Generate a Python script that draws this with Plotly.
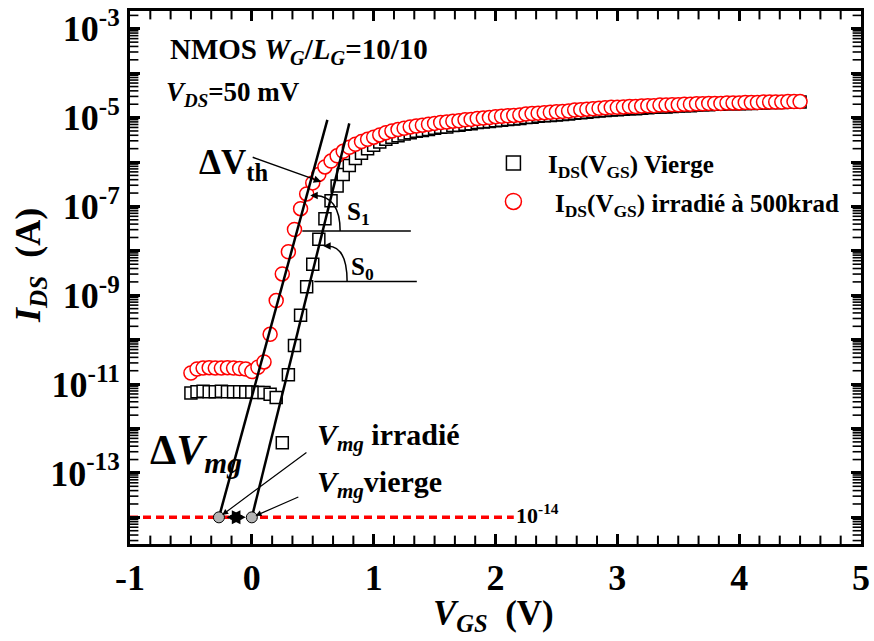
import math
import plotly.graph_objects as go

# Gate-voltage sweep (V)
vgs = [-0.50, -0.45, -0.40, -0.35, -0.30, -0.25, -0.20, -0.15, -0.10, -0.05,
       0.00, 0.05, 0.10, 0.15, 0.20, 0.25, 0.30, 0.35, 0.40, 0.45,
       0.50, 0.55, 0.60, 0.65, 0.70, 0.75, 0.80, 0.85, 0.90, 0.95,
       1.00, 1.05, 1.10, 1.15, 1.20, 1.25, 1.30, 1.35, 1.40, 1.45,
       1.50, 1.55, 1.60, 1.65, 1.70, 1.75, 1.80, 1.85, 1.90, 1.95,
       2.00, 2.05, 2.10, 2.15, 2.20, 2.25, 2.30, 2.35, 2.40, 2.45,
       2.50, 2.55, 2.60, 2.65, 2.70, 2.75, 2.80, 2.85, 2.90, 2.95,
       3.00, 3.05, 3.10, 3.15, 3.20, 3.25, 3.30, 3.35, 3.40, 3.45,
       3.50, 3.55, 3.60, 3.65, 3.70, 3.75, 3.80, 3.85, 3.90, 3.95,
       4.00, 4.05, 4.10, 4.15, 4.20, 4.25, 4.30, 4.35, 4.40, 4.45, 4.50]

# Drain current (A), fresh device
ids_vierge = [6.31e-12, 6.76e-12, 6.92e-12, 6.76e-12, 6.76e-12, 6.92e-12, 6.76e-12, 6.76e-12, 6.76e-12, 6.61e-12,
              6.61e-12, 6.46e-12, 6.46e-12, 5.89e-12, 5.01e-12, 4.79e-13, 1.62e-11, 7.41e-11, 3.55e-10, 1.55e-9,
              5.01e-9, 1.82e-8, 5.25e-8, 1.35e-7, 2.88e-7, 5.25e-7, 8.32e-7, 1.20e-6, 1.58e-6, 2.00e-6,
              2.40e-6, 2.82e-6, 3.24e-6, 3.63e-6, 3.89e-6, 4.27e-6, 4.57e-6, 4.90e-6, 5.13e-6, 5.37e-6,
              5.75e-6, 6.03e-6, 6.17e-6, 6.61e-6, 6.76e-6, 7.08e-6, 7.24e-6, 7.76e-6, 7.94e-6, 8.13e-6,
              8.51e-6, 8.71e-6, 9.12e-6, 9.33e-6, 9.55e-6, 1.00e-5, 1.02e-5, 1.07e-5, 1.10e-5, 1.12e-5,
              1.15e-5, 1.17e-5, 1.20e-5, 1.26e-5, 1.29e-5, 1.32e-5, 1.38e-5, 1.41e-5, 1.45e-5, 1.48e-5,
              1.51e-5, 1.55e-5, 1.58e-5, 1.58e-5, 1.62e-5, 1.66e-5, 1.70e-5, 1.74e-5, 1.74e-5, 1.78e-5,
              1.82e-5, 1.86e-5, 1.86e-5, 1.91e-5, 1.95e-5, 1.95e-5, 2.00e-5, 2.00e-5, 2.04e-5, 2.04e-5,
              2.04e-5, 2.09e-5, 2.09e-5, 2.14e-5, 2.14e-5, 2.19e-5, 2.19e-5, 2.19e-5, 2.24e-5, 2.24e-5, 2.24e-5]

# Drain current (A), after 500 krad
ids_irradie = [1.78e-11, 2.19e-11, 2.29e-11, 2.34e-11, 2.29e-11, 2.29e-11, 2.34e-11, 2.29e-11, 2.24e-11, 2.19e-11,
               1.91e-11, 2.40e-11, 3.16e-11, 1.32e-10, 7.59e-10, 3.02e-9, 9.55e-9, 3.02e-8, 8.91e-8, 1.91e-7,
               3.39e-7, 5.25e-7, 7.76e-7, 1.05e-6, 1.38e-6, 1.74e-6, 2.14e-6, 2.51e-6, 2.88e-6, 3.24e-6,
               3.63e-6, 4.07e-6, 4.57e-6, 5.01e-6, 5.37e-6, 5.75e-6, 6.17e-6, 6.46e-6, 6.76e-6, 7.08e-6,
               7.41e-6, 7.76e-6, 7.94e-6, 8.32e-6, 8.51e-6, 8.91e-6, 9.12e-6, 9.55e-6, 9.77e-6, 1.00e-5,
               1.05e-5, 1.07e-5, 1.10e-5, 1.12e-5, 1.15e-5, 1.20e-5, 1.23e-5, 1.26e-5, 1.29e-5, 1.32e-5,
               1.35e-5, 1.38e-5, 1.41e-5, 1.48e-5, 1.51e-5, 1.55e-5, 1.58e-5, 1.62e-5, 1.66e-5, 1.70e-5,
               1.70e-5, 1.74e-5, 1.78e-5, 1.78e-5, 1.82e-5, 1.86e-5, 1.86e-5, 1.91e-5, 1.91e-5, 1.95e-5,
               1.95e-5, 2.00e-5, 2.00e-5, 2.04e-5, 2.04e-5, 2.09e-5, 2.09e-5, 2.09e-5, 2.14e-5, 2.14e-5,
               2.14e-5, 2.19e-5, 2.19e-5, 2.19e-5, 2.24e-5, 2.24e-5, 2.24e-5, 2.24e-5, 2.29e-5, 2.29e-5, 2.29e-5]

# Subthreshold tangents extrapolated down to the midgap current
tangent_irr_vgs = [-0.27, 0.62]
tangent_irr_ids = [1e-14, 8.9e-6]
tangent_vierge_vgs = [0.00, 0.80]
tangent_vierge_ids = [1e-14, 7.4e-6]

# Midgap voltages (irradiated, fresh) at the midgap current level
vmg_vgs = [-0.27, 0.00]
vmg_ids = [1e-14, 1e-14]
midgap_level_vgs = [-1.0, 2.15]
midgap_level_ids = [1e-14, 1e-14]

X_RANGE = [-1, 5]
Y_RANGE = [-14.6, -2.6]

# Axis ticks
x_ticks = [-1, 0, 1, 2, 3, 4, 5]
x_minor_ticks = [-1 + k / 6 for k in range(37) if k % 6]
y_exponents = list(range(-14, -2))
y_major_ticks = [10.0 ** e for e in y_exponents]
y_minor_ticks = [m * 10.0 ** e for e in range(-15, -2) for m in range(2, 10)
                 if Y_RANGE[0] < e + math.log10(m) < Y_RANGE[1]]

FONT = "Liberation Serif"
PL, PT, PW, PH = 130, 4, 734, 540  # plot box in px


def xp(p):
    return (p - PL) / PW


def yp(p):
    return (PT + PH - p) / PH


fig = go.Figure()

fig.add_trace(go.Scatter(
    x=vgs, y=ids_vierge, mode="markers", name="Vierge",
    marker=dict(symbol="square", size=12, color="white",
                line=dict(color="black", width=1.5))))
fig.add_trace(go.Scatter(
    x=vgs, y=ids_irradie, mode="markers", name="irradié à 500krad",
    marker=dict(symbol="circle", size=14, color="white",
                line=dict(color="#ff0000", width=1.5))))
fig.add_trace(go.Scatter(
    x=tangent_irr_vgs, y=tangent_irr_ids, mode="lines",
    line=dict(color="black", width=2.5)))
fig.add_trace(go.Scatter(
    x=tangent_vierge_vgs, y=tangent_vierge_ids, mode="lines",
    line=dict(color="black", width=2.5)))
fig.add_trace(go.Scatter(
    x=midgap_level_vgs, y=midgap_level_ids, mode="lines",
    line=dict(color="#ff0000", width=3.5, dash="8px,5px")))
fig.add_trace(go.Scatter(
    x=vmg_vgs, y=vmg_ids, mode="markers",
    marker=dict(symbol="circle", size=11, color="#b4b4b4",
                line=dict(color="black", width=1))))


# Inward minor tick marks on all four sides: line markers centred on the
# frame, the outer half of each is clipped away by the plot area.
def tick_marks(xs, ys, symbol, length, width):
    fig.add_trace(go.Scatter(
        x=xs, y=ys, mode="markers", hoverinfo="skip", cliponaxis=True,
        marker=dict(symbol=symbol, size=2 * length, color="black",
                    line=dict(color="black", width=width))))


y_lo, y_hi = 10.0 ** Y_RANGE[0], 10.0 ** Y_RANGE[1]
for yedge in (y_lo, y_hi):
    tick_marks(x_minor_ticks, [yedge] * len(x_minor_ticks), "line-ns", 6, 2)
for xedge in X_RANGE:
    tick_marks([xedge] * len(y_minor_ticks), y_minor_ticks, "line-ew", 6, 1.6)

tick_font = dict(family=FONT, size=36, color="black", weight="bold")
frame = dict(showgrid=False, zeroline=False, showline=True, linewidth=3,
             linecolor="black", mirror="ticks", ticks="inside", tickcolor="black",
             ticklen=10, tickwidth=2.5)

fig.update_layout(
    xaxis=dict(range=X_RANGE, tickvals=x_ticks, ticktext=[str(v) for v in x_ticks],
               tickfont=tick_font, **frame),
    yaxis=dict(type="log", range=Y_RANGE, tickvals=y_major_ticks,
               ticktext=[("10<sup>%d</sup>" % e) if e % 2 else "" for e in y_exponents],
               tickfont=tick_font, **frame),
)


def label(text, x, y, size, xanchor="left", yanchor="middle", angle=0):
    fig.add_annotation(text=text, x=x, y=y, xref="paper", yref="paper",
                       xanchor=xanchor, yanchor=yanchor, showarrow=False,
                       textangle=angle,
                       font=dict(family=FONT, size=size, color="black", weight="bold"))


# Axis titles
label("<i>I</i><sub><i>DS</i></sub>  (A)", xp(30), yp(262), 36, xanchor="center", angle=-90)
label("<i>V</i><sub><i>GS</i></sub>  (V)", xp(495), yp(616), 35, xanchor="center")

# Device description
label("NMOS <i>W</i><sub><i>G</i></sub>/<i>L</i><sub><i>G</i></sub>=10/10", xp(168), yp(45), 29)
label("<i>V</i><sub><i>DS</i></sub>=50 mV", xp(164), yp(88), 27)

# Legend
fig.add_shape(type="rect", xref="paper", yref="paper", xsizemode="pixel", ysizemode="pixel",
              xanchor=xp(515), yanchor=yp(158), x0=-7, x1=7, y0=-7, y1=7,
              line=dict(color="black", width=1.5), fillcolor="white")
fig.add_shape(type="circle", xref="paper", yref="paper", xsizemode="pixel", ysizemode="pixel",
              xanchor=xp(515), yanchor=yp(197), x0=-8, x1=8, y0=-8, y1=8,
              line=dict(color="#ff0000", width=1.5), fillcolor="white")
label("I<sub>DS</sub>(V<sub>GS</sub>) Vierge", xp(548), yp(162), 25)
label("I<sub>DS</sub>(V<sub>GS</sub>) irradié à 500krad", xp(555), yp(201), 25)

# Threshold shift
label("ΔV<sub>th</sub>", xp(197), yp(160), 35)
fig.add_annotation(x=xp(322), y=yp(177), xref="paper", yref="paper", ax=-70, ay=-25,
                   text="", showarrow=True, arrowhead=2, arrowsize=1, arrowwidth=1.5,
                   arrowcolor="black", standoff=0)

# Subthreshold slopes
fig.add_shape(type="line", xref="paper", yref="paper", x0=xp(303), x1=xp(412),
              y0=yp(227), y1=yp(227), line=dict(color="black", width=1.5))
fig.add_shape(type="line", xref="paper", yref="paper", x0=xp(315), x1=xp(418),
              y0=yp(278), y1=yp(278), line=dict(color="black", width=1.5))
fig.add_shape(type="path", xref="paper", yref="paper",
              path="M %f,%f Q %f,%f %f,%f" % (xp(341), yp(227), xp(341), yp(192), xp(316), yp(191)),
              line=dict(color="black", width=1.5))
fig.add_shape(type="path", xref="paper", yref="paper",
              path="M %f,%f Q %f,%f %f,%f" % (xp(348), yp(278), xp(348), yp(243), xp(329), yp(242)),
              line=dict(color="black", width=1.5))
for hx, hy in [(311, 191), (324, 242)]:
    fig.add_annotation(x=xp(hx), y=yp(hy), xref="paper", yref="paper", ax=7, ay=0,
                       text="", showarrow=True, arrowhead=2, arrowsize=1, arrowwidth=1.5,
                       arrowcolor="black", standoff=0)
label("S<sub>1</sub>", xp(346), yp(209), 25)
label("S<sub>0</sub>", xp(350), yp(265), 25)

# Midgap shift
label("Δ<i>V</i><sub><i>mg</i></sub>", xp(148), yp(452), 42)
label("<i>V</i><sub><i>mg</i></sub> irradié", xp(316), yp(436), 30)
label("<i>V</i><sub><i>mg</i></sub>vierge", xp(316), yp(483), 30)
fig.add_annotation(x=vmg_vgs[0], y=-14, xref="x", yref="y", ax=89, ay=-66,
                   text="", showarrow=True, arrowhead=2, arrowsize=1, arrowwidth=1.2,
                   arrowcolor="black", standoff=4)
fig.add_annotation(x=vmg_vgs[1], y=-14, xref="x", yref="y", ax=48, ay=-21,
                   text="", showarrow=True, arrowhead=2, arrowsize=1, arrowwidth=1.2,
                   arrowcolor="black", standoff=4)
fig.add_annotation(x=vmg_vgs[1], y=-14, xref="x", yref="y",
                   ax=vmg_vgs[0], ay=-14, axref="x", ayref="y",
                   text="", showarrow=True, arrowside="end+start",
                   arrowhead=2, startarrowhead=2, arrowsize=0.7, startarrowsize=0.7,
                   arrowwidth=4, arrowcolor="black", standoff=6, startstandoff=6)
label("10<sup>-14</sup>", xp(516), yp(514), 22)

fig.update_layout(
    width=874, height=641, autosize=False,
    margin=dict(l=PL, r=874 - PL - PW, t=PT, b=641 - PT - PH),
    paper_bgcolor="white", plot_bgcolor="white",
    showlegend=False,
    font=dict(family=FONT, color="black"),
)

fig.write_html("out.html")
